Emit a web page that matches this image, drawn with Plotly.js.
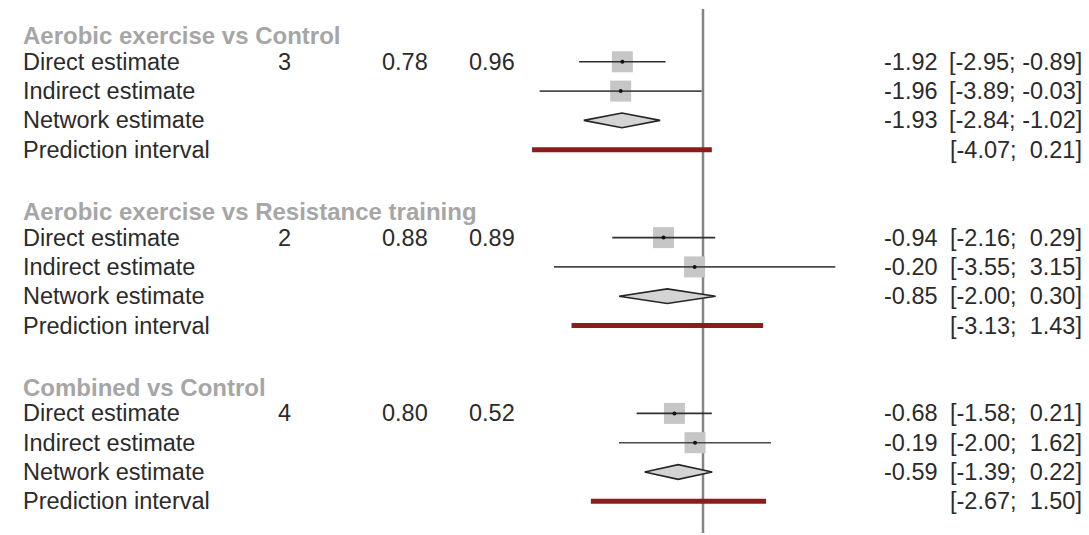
<!DOCTYPE html>
<html>
<head>
<meta charset="utf-8">
<script src="https://cdn.plot.ly/plotly-3.0.1.min.js"></script>
<style>html,body{margin:0;padding:0;background:#fff;}#chart{width:1089px;height:535px;}</style>
</head>
<body>
<div id="chart"></div>
<script>
// ---- data ----
const comparisons = ["Aerobic exercise vs Control", "Aerobic exercise vs Resistance training", "Combined vs Control"];
const rowLabels = ["Direct estimate", "Indirect estimate", "Network estimate", "Prediction interval"];
const nStudies = ["3", "2", "4"];
const propDirect = ["0.78", "0.88", "0.80"];
const thirdCol = ["0.96", "0.89", "0.52"];
const directEst = [-1.92, -0.94, -0.68];
const directLo = [-2.95, -2.16, -1.58];
const directHi = [-0.89, 0.29, 0.21];
const indirectEst = [-1.96, -0.20, -0.19];
const indirectLo = [-3.89, -3.55, -2.00];
const indirectHi = [-0.03, 3.15, 1.62];
const networkEst = [-1.93, -0.85, -0.59];
const networkLo = [-2.84, -2.00, -1.39];
const networkHi = [-1.02, 0.30, 0.22];
const predLo = [-4.07, -3.13, -2.67];
const predHi = [0.21, 1.43, 1.50];

// ---- layout helpers ----
const W = 1089, H = 535;
const pxPerUnit = 42, zeroPx = 703;
const rowPx0 = 32.5, rowStep = 29.3;
const xRange = [-zeroPx / pxPerUnit, (W - zeroPx) / pxPerUnit];
const yRange = [(H - rowPx0) / rowStep, -rowPx0 / rowStep];
const px = p => p / W;

const FONT = "Liberation Sans, Arial, sans-serif";
const txtColor = "#2b2b2b";
const fs = 23.5;

function rowOf(g, k) { return g * 6 + 1 + k; }
const fmt = v => v.toFixed(2);
const pad = v => (v < 0 ? "" : "\u00A0") + fmt(v);
const ci = (lo, hi) => "[" + fmt(lo) + ";\u00A0" + pad(hi) + "]";

const traces = [];
const annotations = [];

function addLine(xs, ys, color, width) {
  traces.push({x: xs, y: ys, mode: "lines", line: {color: color, width: width}, hoverinfo: "skip", showlegend: false});
}

const dX = [], dY = [], iX = [], iY = [], sqX = [], sqY = [], prX = [], prY = [];
for (let g = 0; g < comparisons.length; g++) {
  const rD = rowOf(g, 0), rI = rowOf(g, 1), rN = rowOf(g, 2), rP = rowOf(g, 3);
  dX.push(directLo[g], directHi[g], null); dY.push(rD, rD, null);
  iX.push(indirectLo[g], indirectHi[g], null); iY.push(rI, rI, null);
  sqX.push(directEst[g], indirectEst[g]); sqY.push(rD, rI);
  prX.push(predLo[g], predHi[g], null); prY.push(rP, rP, null);
  // diamond
  const h = 0.25;
  traces.push({
    x: [networkLo[g], networkEst[g], networkHi[g], networkEst[g], networkLo[g]],
    y: [rN, rN - h, rN, rN + h, rN],
    mode: "lines", fill: "toself", fillcolor: "#d4d4d4",
    line: {color: "#262626", width: 1.6}, hoverinfo: "skip", showlegend: false
  });

  // header
  annotations.push({xref: "paper", yref: "y", x: px(21), y: rD - 0.9, xanchor: "left", yanchor: "middle",
    text: "<b>" + comparisons[g] + "</b>", showarrow: false, font: {family: FONT, size: 24, color: "#a6a6a6"}});
  // row labels
  for (let k = 0; k < 4; k++) {
    annotations.push({xref: "paper", yref: "y", x: px(21), y: rowOf(g, k), xanchor: "left", yanchor: "middle",
      text: rowLabels[k], showarrow: false, font: {family: FONT, size: fs, color: txtColor}});
  }
  annotations.push({xref: "paper", yref: "y", x: px(284), y: rD, xanchor: "center", yanchor: "middle",
    text: nStudies[g], showarrow: false, font: {family: FONT, size: fs, color: txtColor}});
  annotations.push({xref: "paper", yref: "y", x: px(430), y: rD, xanchor: "right", yanchor: "middle",
    text: propDirect[g], showarrow: false, font: {family: FONT, size: fs, color: txtColor}});
  annotations.push({xref: "paper", yref: "y", x: px(517), y: rD, xanchor: "right", yanchor: "middle",
    text: thirdCol[g], showarrow: false, font: {family: FONT, size: fs, color: txtColor}});
  // right columns
  const ests = [directEst[g], indirectEst[g], networkEst[g]];
  const los = [directLo[g], indirectLo[g], networkLo[g], predLo[g]];
  const his = [directHi[g], indirectHi[g], networkHi[g], predHi[g]];
  for (let k = 0; k < 4; k++) {
    if (k < 3) {
      annotations.push({xref: "paper", yref: "y", x: px(940), y: rowOf(g, k), xanchor: "right", yanchor: "middle",
        text: fmt(ests[k]), showarrow: false, font: {family: FONT, size: fs, color: txtColor}});
    }
    annotations.push({xref: "paper", yref: "y", x: px(1084), y: rowOf(g, k), xanchor: "right", yanchor: "middle",
      text: ci(los[k], his[k]), showarrow: false, font: {family: FONT, size: fs, color: txtColor}});
  }
}

// squares first so lines draw on top
traces.unshift({x: sqX, y: sqY, mode: "markers", marker: {symbol: "square", size: 21, color: "#c6c6c6", line: {width: 0}},
  hoverinfo: "skip", showlegend: false});
addLine(dX, dY, "#2f2f2f", 1.6);
addLine(iX, iY, "#4a4a4a", 1.6);
addLine(prX, prY, "#8b1c1c", 5);
traces.push({x: sqX, y: sqY, mode: "markers", marker: {symbol: "circle", size: 4, color: "#111"},
  hoverinfo: "skip", showlegend: false});

const layout = {
  width: W, height: H,
  margin: {l: 0, r: 0, t: 0, b: 0, pad: 0},
  paper_bgcolor: "#ffffff", plot_bgcolor: "#ffffff",
  xaxis: {range: xRange, visible: false, fixedrange: true},
  yaxis: {range: yRange, visible: false, fixedrange: true},
  showlegend: false,
  shapes: [{type: "line", xref: "x", yref: "paper", x0: 0, x1: 0, y0: 1 - 533 / H, y1: 1 - 9 / H,
    line: {color: "#858585", width: 2.5}, layer: "below"}],
  annotations: annotations
};

Plotly.newPlot("chart", traces, layout, {staticPlot: true, displayModeBar: false});
</script>
</body>
</html>
